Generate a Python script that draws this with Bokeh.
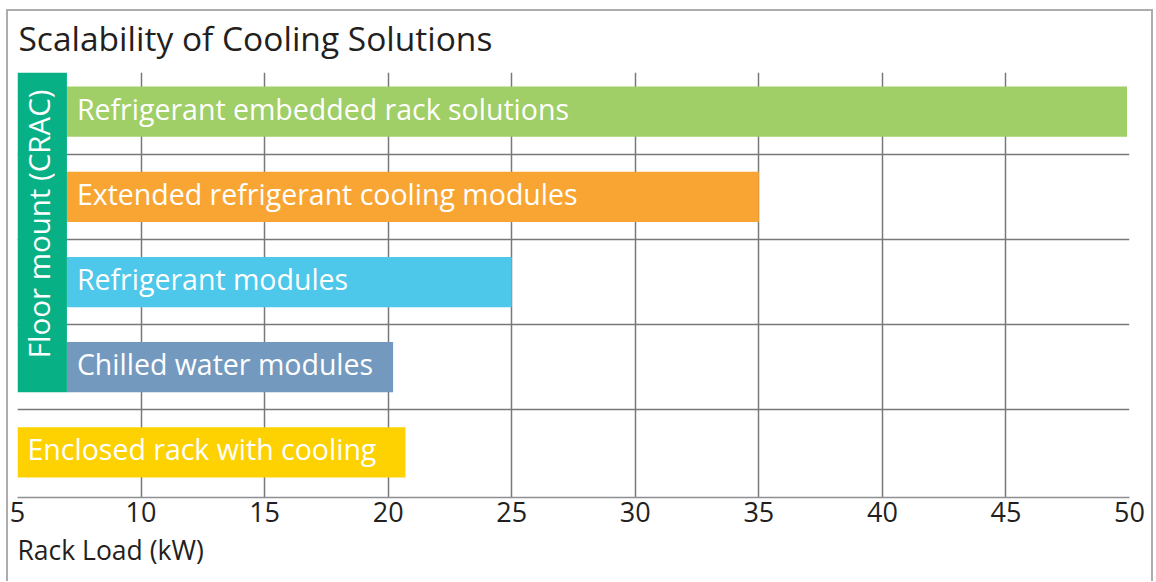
import math
from bokeh.plotting import figure
from bokeh.models import ColumnDataSource, FixedTicker, Title, Range1d, Label
from bokeh.core.properties import value
from bokeh.embed import file_html
from bokeh.resources import INLINE

# ---- data ----
title_text = "Scalability of Cooling Solutions"
x_axis_label = "Rack Load (kW)"
categories = [
    "Refrigerant embedded rack solutions",
    "Extended refrigerant cooling modules",
    "Refrigerant  modules",
    "Chilled water modules",
    "Enclosed rack with cooling",
]
rows = [4, 3, 2, 1, 0]
start_kw = [7, 7, 7, 7, 5]
end_kw = [49.9, 35, 25, 20.2, 20.7]
bar_colors = ["#A0CE67", "#F9A533", "#4DC7EA", "#7499BE", "#FDD200"]
group_label = "Floor mount (CRAC)"
group_start_kw = 5
group_end_kw = 7
group_rows = [4, 3, 2, 1]
group_color = "#08B085"
x_ticks = [5, 10, 15, 20, 25, 30, 35, 40, 45, 50]
x_grid = [10, 15, 20, 25, 30, 35, 40, 45]
row_bounds = [4.46, 3.5, 2.5, 1.5, 0.5]

# ---- style ----
FONT = "Open Sans"
TEXT_DARK = "#231F20"
GRID = "#77787B"
BAR_H = 0.59

p = figure(
    width=1147, height=572,
    x_range=Range1d(5, 50), y_range=Range1d(-0.53, 4.46),
    output_backend="svg", toolbar_location=None,
    y_axis_location=None,
    min_border_left=9, min_border_right=26, min_border_top=61, min_border_bottom=86,
)
p.styles = {"margin-left": "6px", "margin-top": "9px",
            "border-top": "2px solid #ADADAF", "border-left": "2px solid #ADADAF",
            "border-right": "2px solid #ADADAF"}
p.outline_line_color = None
p.background_fill_color = "white"
p.border_fill_color = "white"

# title, in the panel above the plot frame
p.add_layout(Label(x=1, y=34.5, x_units="screen", y_units="screen", text=title_text,
                   text_font=FONT, text_font_size="33.5px",
                   text_color=TEXT_DARK, text_align="left",
                   text_baseline="alphabetic"), "above")

# grid
p.xgrid.ticker = FixedTicker(ticks=x_grid)
p.ygrid.ticker = FixedTicker(ticks=row_bounds)
p.grid.grid_line_color = GRID
p.grid.grid_line_width = 1.5

# x axis
ax = p.xaxis[0]
ax.ticker = FixedTicker(ticks=x_ticks)
ax.axis_line_color = "#8E8F92"
ax.axis_line_width = 1.5
ax.major_tick_line_color = None
ax.minor_tick_line_color = None
ax.major_tick_out = 0
ax.major_tick_in = 0
ax.major_label_standoff = 4
ax.major_label_text_font = FONT
ax.major_label_text_font_size = "27px"
ax.major_label_text_color = TEXT_DARK

p.add_layout(Title(text=x_axis_label, align="left", text_font=FONT,
                   text_font_size="26.5px", text_font_style="normal",
                   text_color=TEXT_DARK, offset=0, standoff=10), "below")

# bars
src = ColumnDataSource(dict(cat=categories, row=rows, start=start_kw,
                            end=end_kw, color=bar_colors))
p.hbar(y="row", left="start", right="end", height=BAR_H, color="color",
       line_color=None, source=src)

# group (floor mount) bar
g_bottom = min(group_rows) - BAR_H / 2
g_top = p.y_range.end
p.quad(left=[group_start_kw], right=[group_end_kw], bottom=[g_bottom], top=[g_top],
       color=group_color, line_color=None)

# labels in bars
p.text(x="start", y="row", text="cat", source=src, text_color="white",
       text_font=value(FONT), text_font_size="28.5px", text_align="left",
       text_baseline="middle", x_offset=10, y_offset=-3)

p.text(x=[(group_start_kw + group_end_kw) / 2], y=[(g_bottom + g_top) / 2 + 0.1],
       text=[group_label], angle=math.pi / 2, text_color="white",
       text_font=value(FONT), text_font_size="29.5px", text_align="center",
       text_baseline="middle", x_offset=-4)

open("out.html", "w").write(file_html(p, INLINE))
